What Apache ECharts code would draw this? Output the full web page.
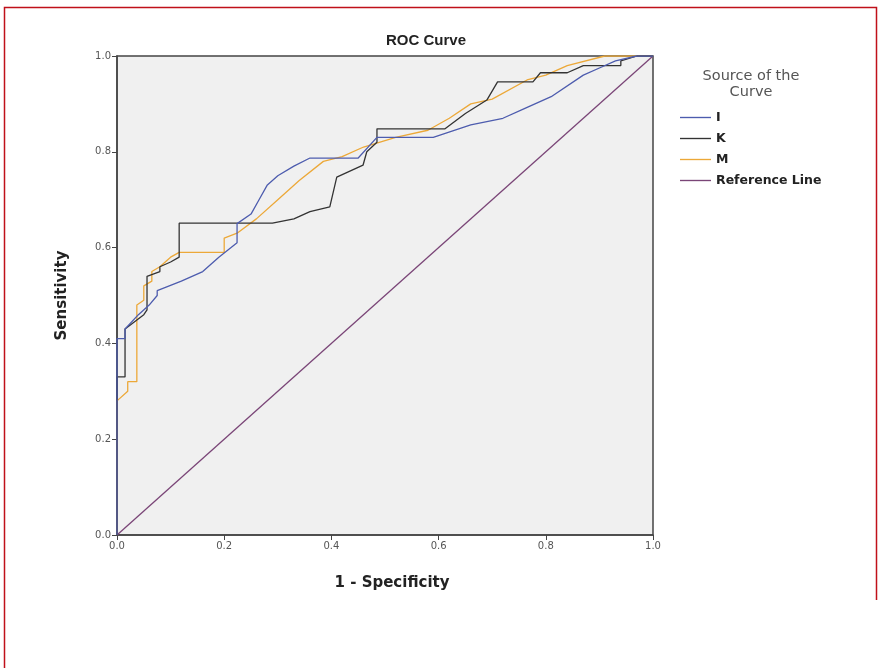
<!DOCTYPE html>
<html>
<head>
<meta charset="utf-8">
<script src="https://cdn.jsdelivr.net/npm/echarts@6/dist/echarts.min.js"></script>
<style>
html,body{margin:0;padding:0;background:#fff;}
#chart{width:880px;height:668px;}
</style>
</head>
<body>
<div id="chart"></div>
<script>
// ---- data ----
const xTicks = [0, 0.2, 0.4, 0.6, 0.8, 1.0];
const yTicks = [0, 0.2, 0.4, 0.6, 0.8, 1.0];

const fprI = [0, 0, 0.015, 0.015, 0.04, 0.06, 0.075, 0.075, 0.12, 0.16, 0.19, 0.224, 0.224, 0.25, 0.265, 0.28, 0.30, 0.33, 0.36, 0.45, 0.485, 0.52, 0.59, 0.66, 0.72, 0.76, 0.81, 0.87, 0.90, 0.93, 0.97, 1];
const tprI = [0, 0.41, 0.41, 0.43, 0.46, 0.48, 0.50, 0.51, 0.53, 0.55, 0.58, 0.61, 0.65, 0.67, 0.70, 0.73, 0.75, 0.77, 0.787, 0.787, 0.83, 0.83, 0.83, 0.856, 0.87, 0.89, 0.915, 0.96, 0.975, 0.99, 1.0, 1.0];

const fprK = [0, 0, 0.015, 0.015, 0.05, 0.056, 0.056, 0.08, 0.08, 0.10, 0.116, 0.116, 0.29, 0.33, 0.36, 0.397, 0.41, 0.459, 0.466, 0.485, 0.485, 0.612, 0.65, 0.69, 0.71, 0.776, 0.79, 0.84, 0.87, 0.94, 0.94, 0.97, 1];
const tprK = [0, 0.33, 0.33, 0.43, 0.46, 0.47, 0.54, 0.55, 0.56, 0.57, 0.58, 0.651, 0.651, 0.66, 0.675, 0.685, 0.747, 0.772, 0.80, 0.82, 0.848, 0.848, 0.88, 0.908, 0.946, 0.946, 0.965, 0.965, 0.98, 0.98, 0.99, 1.0, 1.0];

const fprM = [0, 0, 0.02, 0.02, 0.037, 0.037, 0.05, 0.05, 0.065, 0.065, 0.08, 0.09, 0.10, 0.116, 0.20, 0.20, 0.224, 0.26, 0.30, 0.34, 0.385, 0.42, 0.46, 0.52, 0.58, 0.62, 0.66, 0.70, 0.765, 0.80, 0.84, 0.91, 1];
const tprM = [0, 0.28, 0.30, 0.32, 0.32, 0.48, 0.49, 0.52, 0.53, 0.55, 0.56, 0.57, 0.58, 0.59, 0.59, 0.62, 0.63, 0.66, 0.70, 0.74, 0.78, 0.79, 0.81, 0.83, 0.845, 0.87, 0.90, 0.91, 0.95, 0.96, 0.98, 1.0, 1.0];

const fprRef = [0, 1];
const tprRef = [0, 1];

const seriesNames = ['I', 'K', 'M', 'Reference Line'];
const seriesColors = ['#4d5cae', '#333333', '#eca838', '#7a4577'];

// ---- build ----
const zip = (xs, ys) => xs.map((x, i) => [x, ys[i]]);
const dataSets = [zip(fprI, tprI), zip(fprK, tprK), zip(fprM, tprM), zip(fprRef, tprRef)];

const chart = echarts.init(document.getElementById('chart'), null, {renderer: 'canvas'});
const font = 'Liberation Sans, Arial, sans-serif';
const wide = 'DejaVu Sans, Verdana, sans-serif';
const lineIcon = 'path://M0,0 L32,0 L32,1.4 L0,1.4 Z';

chart.setOption({
  animation: false,
  backgroundColor: '#ffffff',
  title: [
    {
      text: 'ROC Curve', left: 421, top: 28, textAlign: 'center',
      textStyle: {fontFamily: font, fontSize: 15, fontWeight: 'bold', color: '#222'}
    },
    {
      text: 'Source of the\nCurve', left: 746, top: 63, textAlign: 'center',
      textStyle: {fontFamily: wide, fontSize: 14.5, fontWeight: 'normal', color: '#555', lineHeight: 16}
    }
  ],
  legend: {
    orient: 'vertical', left: 675, top: 106,
    itemWidth: 31, itemHeight: 13, itemGap: 8,
    data: seriesNames.map((n, i) => ({name: n, icon: lineIcon, itemStyle: {color: seriesColors[i]}})),
    textStyle: {fontFamily: wide, fontSize: 12.5, fontWeight: 'bold', color: '#222'}
  },
  grid: {
    left: 117, top: 56, width: 536, height: 479,
    show: true, backgroundColor: '#f0f0f0', borderColor: '#444', borderWidth: 1.5
  },
  xAxis: {
    type: 'value', min: 0, max: 1, interval: 0.2,
    name: '1 - Specificity', nameLocation: 'middle', nameGap: 41,
    nameTextStyle: {fontFamily: wide, fontSize: 15, fontWeight: 'bold', color: '#222', padding: [0, 0, 0, 14]},
    axisLine: {show: true, lineStyle: {color: '#444', width: 1.5}},
    axisTick: {show: true, length: 5, lineStyle: {color: '#444'}},
    axisLabel: {fontFamily: wide, fontSize: 10, color: '#555', margin: 6,
      formatter: v => xTicks.includes(Math.round(v * 10) / 10) ? v.toFixed(1) : ''},
    splitLine: {show: false}
  },
  yAxis: {
    type: 'value', min: 0, max: 1, interval: 0.2,
    name: 'Sensitivity', nameLocation: 'middle', nameGap: 47,
    nameTextStyle: {fontFamily: wide, fontSize: 15, fontWeight: 'bold', color: '#222'},
    axisLine: {show: true, lineStyle: {color: '#444', width: 1.5}},
    axisTick: {show: true, length: 5, lineStyle: {color: '#444'}},
    axisLabel: {fontFamily: wide, fontSize: 10, color: '#555', margin: 6,
      formatter: v => yTicks.includes(Math.round(v * 10) / 10) ? v.toFixed(1) : ''},
    splitLine: {show: false}
  },
  series: seriesNames.map((name, i) => ({
    name: name, type: 'line', data: dataSets[i],
    symbol: 'none', showSymbol: false,
    lineStyle: {color: seriesColors[i], width: 1.3},
    itemStyle: {color: seriesColors[i]},
    z: i === 3 ? 1 : 2 + (3 - i)
  })),
  graphic: [
    {
      type: 'polyline', silent: true,
      shape: {points: [[4.5, 668], [4.5, 7.5], [876.5, 7.5], [876.5, 600]]},
      style: {stroke: '#c0101a', lineWidth: 1.5, fill: null}
    }
  ]
});
</script>
</body>
</html>
